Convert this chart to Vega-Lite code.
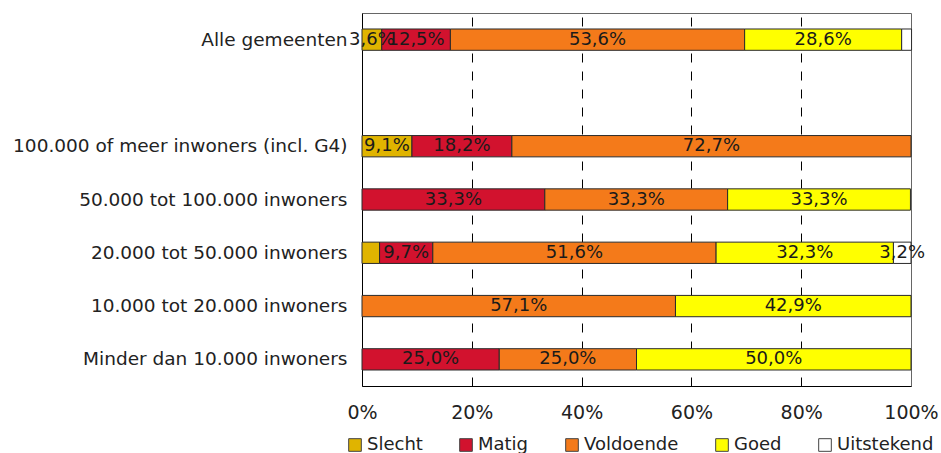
{
  "$schema": "https://vega.github.io/schema/vega-lite/v6.json",
  "width": 549,
  "height": 373,
  "autosize": "none",
  "padding": {"left": 362, "top": 13, "right": 30, "bottom": 67},
  "background": "white",
  "data": {"values": [
    {"grp": "Alle gemeenten", "cat": "Slecht", "pct": 3.6},
    {"grp": "Alle gemeenten", "cat": "Matig", "pct": 12.5},
    {"grp": "Alle gemeenten", "cat": "Voldoende", "pct": 53.6},
    {"grp": "Alle gemeenten", "cat": "Goed", "pct": 28.6},
    {"grp": "Alle gemeenten", "cat": "Uitstekend", "pct": 1.8},
    {"grp": "100.000 of meer inwoners (incl. G4)", "cat": "Slecht", "pct": 9.1},
    {"grp": "100.000 of meer inwoners (incl. G4)", "cat": "Matig", "pct": 18.2},
    {"grp": "100.000 of meer inwoners (incl. G4)", "cat": "Voldoende", "pct": 72.7},
    {"grp": "50.000 tot 100.000 inwoners", "cat": "Matig", "pct": 33.3},
    {"grp": "50.000 tot 100.000 inwoners", "cat": "Voldoende", "pct": 33.3},
    {"grp": "50.000 tot 100.000 inwoners", "cat": "Goed", "pct": 33.3},
    {"grp": "20.000 tot 50.000 inwoners", "cat": "Slecht", "pct": 3.2},
    {"grp": "20.000 tot 50.000 inwoners", "cat": "Matig", "pct": 9.7},
    {"grp": "20.000 tot 50.000 inwoners", "cat": "Voldoende", "pct": 51.6},
    {"grp": "20.000 tot 50.000 inwoners", "cat": "Goed", "pct": 32.3},
    {"grp": "20.000 tot 50.000 inwoners", "cat": "Uitstekend", "pct": 3.2},
    {"grp": "10.000 tot 20.000 inwoners", "cat": "Voldoende", "pct": 57.1},
    {"grp": "10.000 tot 20.000 inwoners", "cat": "Goed", "pct": 42.9},
    {"grp": "Minder dan 10.000 inwoners", "cat": "Matig", "pct": 25.0},
    {"grp": "Minder dan 10.000 inwoners", "cat": "Voldoende", "pct": 25.0},
    {"grp": "Minder dan 10.000 inwoners", "cat": "Goed", "pct": 50.0}
  ]},
  "transform": [
    {"calculate": "indexof(['Slecht','Matig','Voldoende','Goed','Uitstekend'], datum.cat)", "as": "ord"},
    {"stack": "pct", "groupby": ["grp"], "sort": [{"field": "ord", "order": "ascending"}], "as": ["x0", "x1"]},
    {"calculate": "(datum.x0 + datum.x1) / 2", "as": "mid"},
    {"calculate": "replace(format(datum.pct, '.1f'), '.', ',') + '%'", "as": "label"}
  ],
  "encoding": {
    "y": {
      "field": "grp",
      "type": "nominal",
      "title": null,
      "scale": {
        "domain": ["Alle gemeenten", " ", "100.000 of meer inwoners (incl. G4)", "50.000 tot 100.000 inwoners", "20.000 tot 50.000 inwoners", "10.000 tot 20.000 inwoners", "Minder dan 10.000 inwoners"],
        "paddingInner": 0.6,
        "paddingOuter": 0.3
      },
      "axis": {
        "ticks": false,
        "domainColor": "#000000",
        "labelFont": "DejaVu Sans",
        "labelFontSize": 18.5,
        "labelColor": "#222222",
        "labelPadding": 15,
        "labelLimit": 400
      }
    }
  },
  "layer": [
    {
      "mark": {"type": "bar", "stroke": "#2a2a2a", "strokeWidth": 1},
      "encoding": {
        "x": {
          "field": "x0",
          "type": "quantitative",
          "title": null,
          "scale": {"domain": [0, 100], "nice": false},
          "axis": {
            "values": [0, 20, 40, 60, 80, 100],
            "labelExpr": "datum.value + '%'",
            "labelFlush": false,
            "ticks": false,
            "domainColor": "#000000",
            "grid": true,
            "gridColor": "#000000",
            "gridDash": [9, 9],
            "gridOpacity": {"condition": {"test": "datum.value == 0 || datum.value == 100", "value": 0}, "value": 1},
            "labelFont": "DejaVu Sans",
            "labelFontSize": 19,
            "labelColor": "#222222",
            "labelPadding": 17
          }
        },
        "x2": {"field": "x1"},
        "color": {
          "field": "cat",
          "type": "nominal",
          "scale": {
            "domain": ["Slecht", "Matig", "Voldoende", "Goed", "Uitstekend"],
            "range": ["#E0B400", "#D2122E", "#F47A1A", "#FFFF00", "#FFFFFF"]
          },
          "legend": {
            "title": null,
            "orient": "none",
            "legendX": -16,
            "legendY": 423,
            "direction": "horizontal",
            "columns": 5,
            "columnPadding": 34,
            "symbolType": "square",
            "symbolSize": 160,
            "symbolStrokeColor": "#444444",
            "symbolStrokeWidth": 1,
            "symbolOpacity": 1,
            "labelOffset": 3,
            "labelFont": "DejaVu Sans",
            "labelFontSize": 18,
            "labelColor": "#222222",
            "labelLimit": 200
          }
        }
      }
    },
    {
      "transform": [
        {"filter": "datum.pct >= 2 && !(datum.grp == '20.000 tot 50.000 inwoners' && datum.cat == 'Slecht')"}
      ],
      "mark": {"type": "text", "font": "DejaVu Sans", "fontSize": 18, "color": "#1a1a1a", "align": "center", "baseline": "middle"},
      "encoding": {
        "x": {"field": "mid", "type": "quantitative"},
        "text": {"field": "label", "type": "nominal"}
      }
    }
  ],
  "config": {
    "view": {"stroke": "#666666", "strokeWidth": 1}
  }
}
